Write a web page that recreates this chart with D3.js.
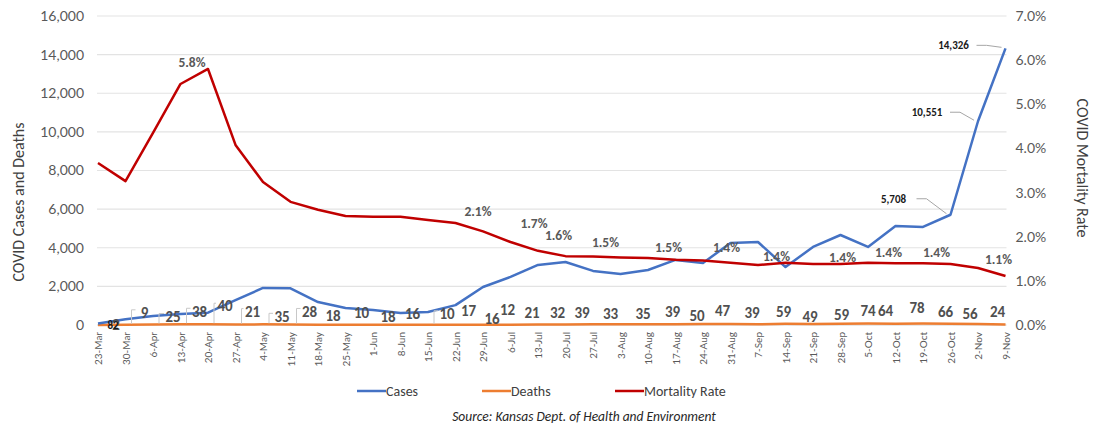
<!DOCTYPE html>
<html>
<head>
<meta charset="utf-8">
<script src="https://cdn.jsdelivr.net/npm/d3@7"></script>
<style>
    body { margin: 0; background: #fff; }
    svg text { font-family: Carlito, Calibri, Lato, sans-serif; }
</style>
</head>
<body>
<div id="chart"></div>
<script>
// weekly categories
const weeks = ["23-Mar", "30-Mar", "6-Apr", "13-Apr", "20-Apr", "27-Apr", "4-May", "11-May", "18-May", "25-May",
    "1-Jun", "8-Jun", "15-Jun", "22-Jun", "29-Jun", "6-Jul", "13-Jul", "20-Jul", "27-Jul", "3-Aug", "10-Aug",
    "17-Aug", "24-Aug", "31-Aug", "7-Sep", "14-Sep", "21-Sep", "28-Sep", "5-Oct", "12-Oct", "19-Oct", "26-Oct",
    "2-Nov", "9-Nov"];

const cases = [82, 300, 470, 570, 640, 1290, 1920, 1900, 1190, 880, 780, 620, 670, 1030, 1970, 2490, 3110, 3260,
    2800, 2640, 2850, 3370, 3210, 4250, 4300, 3000, 4040, 4660, 4040, 5130, 5080, 5708, 10551, 14326];

const deaths = [2, 9, 25, 38, 40, 21, 35, 28, 18, 10, 18, 16, 10, 17, 16, 12, 21, 32, 39, 33, 35, 39, 50, 47, 39,
    59, 49, 59, 74, 64, 78, 66, 56, 24];

// percent
const mortality = [3.67, 3.26, 4.35, 5.46, 5.80, 4.08, 3.24, 2.79, 2.61, 2.47, 2.45, 2.45, 2.38, 2.31, 2.12, 1.88,
    1.68, 1.56, 1.55, 1.53, 1.52, 1.48, 1.46, 1.41, 1.36, 1.41, 1.38, 1.38, 1.41, 1.40, 1.40, 1.38, 1.29, 1.11];

const leftTicks = [0, 2000, 4000, 6000, 8000, 10000, 12000, 14000, 16000];
const rightTicks = [0, 1, 2, 3, 4, 5, 6, 7];

// which points carry a label
const casesLabelIdx = [0, 31, 32, 33];
const mortalityLabelIdx = [4, 14, 16, 17, 19, 21, 23, 25, 27, 29, 31, 33];

// label nudges in px (layout only), same order as the label index lists
const casesNudge = [[15, 2], [-57, -16], [-51, -9], [-52, -3]];
const mortalityNudge = [[-16, -7], [-5, -20], [-4, -28], [-7, -21], [-15, -15], [-7, -12], [-4, -15], [-9, -6],
    [2, -7], [-7, -11], [-14, -12], [-7, -17]];
const deathsNudge = [[18, 0], [19, -12], [20, -8], [19, -13], [17, -18], [17, -13], [19, -8], [19, -13], [15, -9],
    [16, -12], [15, -8], [12, -11], [19, -11], [13, -14], [9, -6], [-3, -15], [-6, -12], [-8, -12], [-11, -11],
    [-10, -11], [-5, -11], [-3, -12], [-6, -8], [-8, -13], [-6, -11], [-2, -12], [-3, -7], [1, -9], [0, -13],
    [-10, -13], [-6, -16], [-5, -12], [-8, -10], [-8, -13]];

const width = 1097;
const height = 433;
const plot = {left: 98, right: 1005.5, top: 16, bottom: 325};

const colors = {cases: "#4472c4", deaths: "#ed7d31", mortality: "#c00000"};

const xScale = d3.scalePoint().domain(weeks).range([plot.left, plot.right]);
const yLeft = d3.scaleLinear().domain([0, 16000]).range([plot.bottom, plot.top]);
const yRight = d3.scaleLinear().domain([0, 7]).range([plot.bottom, plot.top]);

const svg = d3.select("#chart").append("svg")
    .attr("width", width)
    .attr("height", height)
    .attr("viewBox", "0,0," + width + "," + height);

// gridlines
svg.append("g")
    .attr("class", "grid")
    .selectAll("line").data(leftTicks.slice(1)).enter()
    .append("line")
        .attr("x1", plot.left - 1)
        .attr("x2", plot.right + 1)
        .attr("y1", function(d){ return yLeft(d); })
        .attr("y2", function(d){ return yLeft(d); })
        .attr("stroke", "#e3e3e3")
        .attr("stroke-width", 1.2);

svg.append("line")
    .attr("x1", plot.left - 1).attr("x2", plot.right + 1)
    .attr("y1", plot.bottom).attr("y2", plot.bottom)
    .attr("stroke", "#d0d0d0");

// left axis
const leftAxis = d3.axisLeft(yLeft).tickValues(leftTicks).tickSize(0).tickPadding(14)
    .tickFormat(d3.format(","));
svg.append("g")
    .attr("transform", "translate(" + plot.left + ",0)")
    .call(leftAxis)
    .call(function(g){ g.select(".domain").remove(); })
    .selectAll("text")
        .attr("font-size", "14px")
        .attr("fill", "#595959")
        .style("font-family", "Lato, sans-serif");

// right axis
const rightAxis = d3.axisRight(yRight).tickValues(rightTicks).tickSize(0).tickPadding(10)
    .tickFormat(function(d){ return d.toFixed(1) + "%"; });
svg.append("g")
    .attr("transform", "translate(" + plot.right + ",0)")
    .call(rightAxis)
    .call(function(g){ g.select(".domain").remove(); })
    .selectAll("text")
        .attr("font-size", "14px")
        .attr("fill", "#595959")
        .style("font-family", "Lato, sans-serif");

// x axis, rotated labels
const xAxis = d3.axisBottom(xScale).tickSize(0).tickPadding(0);
svg.append("g")
    .attr("transform", "translate(0," + plot.bottom + ")")
    .call(xAxis)
    .call(function(g){ g.select(".domain").remove(); })
    .selectAll("text")
        .attr("font-size", "10px")
        .attr("fill", "#595959")
        .style("font-family", "Lato, sans-serif")
        .attr("text-anchor", "end")
        .attr("dy", "0.35em")
        .attr("transform", "translate(0,7) rotate(-90)")
        .attr("x", 0)
        .attr("y", 0);

// axis titles
svg.append("text")
    .attr("transform", "translate(24,202) rotate(-90)")
    .attr("text-anchor", "middle")
    .attr("font-size", "16px")
    .attr("fill", "#404040")
    .text("COVID Cases  and Deaths");

svg.append("text")
    .attr("transform", "translate(1077,168) rotate(90)")
    .attr("text-anchor", "middle")
    .attr("font-size", "16px")
    .attr("fill", "#404040")
    .text("COVID Mortality Rate");

// series lines
const lineCases = d3.line()
    .x(function(d, i){ return xScale(weeks[i]); })
    .y(function(d){ return yLeft(d); });

const lineRate = d3.line()
    .x(function(d, i){ return xScale(weeks[i]); })
    .y(function(d){ return yRight(d); });

svg.append("path").datum(deaths)
    .attr("d", lineCases)
    .attr("fill", "none")
    .attr("stroke", colors.deaths)
    .attr("stroke-width", 2.5);

svg.append("path").datum(cases)
    .attr("d", lineCases)
    .attr("fill", "none")
    .attr("stroke", colors.cases)
    .attr("stroke-width", 2.5)
    .attr("stroke-linejoin", "round");

svg.append("path").datum(mortality)
    .attr("d", lineRate)
    .attr("fill", "none")
    .attr("stroke", colors.mortality)
    .attr("stroke-width", 2.5)
    .attr("stroke-linejoin", "round");

// deaths labels with small leader brackets for the shifted ones
const deathLabels = svg.append("g").attr("class", "death-labels");
deaths.forEach(function(d, i){
    const px = xScale(weeks[i]);
    const py = yLeft(d);
    const lx = px + deathsNudge[i][0];
    const ly = py + deathsNudge[i][1];
    if (i >= 1 && i <= 7 || i === 12) {
        deathLabels.append("polyline")
            .attr("points", [[px + 6, py - 1], [px + 6, ly - 3], [lx - 9, ly - 3]].join(" "))
            .attr("fill", "none")
            .attr("stroke", "#c8c8c8")
            .attr("stroke-width", 1);
    }
    deathLabels.append("text")
        .attr("x", lx)
        .attr("y", ly)
        .attr("dy", "0.35em")
        .attr("text-anchor", "middle")
        .attr("font-size", "15px")
        .attr("font-weight", "bold")
        .attr("fill", "#505050")
        .text(d);
});

// mortality labels
mortalityLabelIdx.forEach(function(idx, k){
    const px = xScale(weeks[idx]);
    const py = yRight(mortality[idx]);
    svg.append("text")
        .attr("x", px + mortalityNudge[k][0])
        .attr("y", py + mortalityNudge[k][1])
        .attr("dy", "0.35em")
        .attr("text-anchor", "middle")
        .attr("font-size", "13.5px")
        .attr("font-weight", "bold")
        .attr("fill", "#595959")
        .text(mortality[idx].toFixed(1) + "%");
});

// cases labels with leader lines
casesLabelIdx.forEach(function(idx, k){
    const px = xScale(weeks[idx]);
    const py = yLeft(cases[idx]);
    const lx = px + casesNudge[k][0];
    const ly = py + casesNudge[k][1];
    if (k > 0) {
        svg.append("polyline")
            .attr("points", [[lx + 23, ly], [lx + 33, ly], [px - 4, py - 1]].join(" "))
            .attr("fill", "none")
            .attr("stroke", "#a6a6a6")
            .attr("stroke-width", 1);
    }
    svg.append("text")
        .attr("x", lx)
        .attr("y", ly)
        .attr("dy", "0.35em")
        .attr("text-anchor", "middle")
        .attr("font-size", "11px")
        .attr("font-weight", "bold")
        .attr("fill", "#1a1a1a")
        .text(d3.format(",")(cases[idx]));
});

// legend
const legendItems = [
    {name: "Cases", color: colors.cases, x: 357},
    {name: "Deaths", color: colors.deaths, x: 482},
    {name: "Mortality Rate", color: colors.mortality, x: 615}
];
const legend = svg.append("g").attr("class", "legend");
legend.selectAll("line").data(legendItems).enter()
    .append("line")
        .attr("x1", function(d){ return d.x; })
        .attr("x2", function(d){ return d.x + 29; })
        .attr("y1", 391)
        .attr("y2", 391)
        .attr("stroke", function(d){ return d.color; })
        .attr("stroke-width", 2.5);
legend.selectAll("text").data(legendItems).enter()
    .append("text")
        .attr("x", function(d){ return d.x + 29; })
        .attr("y", 391)
        .attr("dy", "0.35em")
        .attr("font-size", "14px")
        .attr("fill", "#404040")
        .text(function(d){ return d.name; });

svg.append("text")
    .attr("x", 584)
    .attr("y", 416)
    .attr("dy", "0.35em")
    .attr("text-anchor", "middle")
    .attr("font-size", "13.5px")
    .attr("font-style", "italic")
    .attr("fill", "#262626")
    .text("Source: Kansas Dept. of Health and Environment");
</script>
</body>
</html>
